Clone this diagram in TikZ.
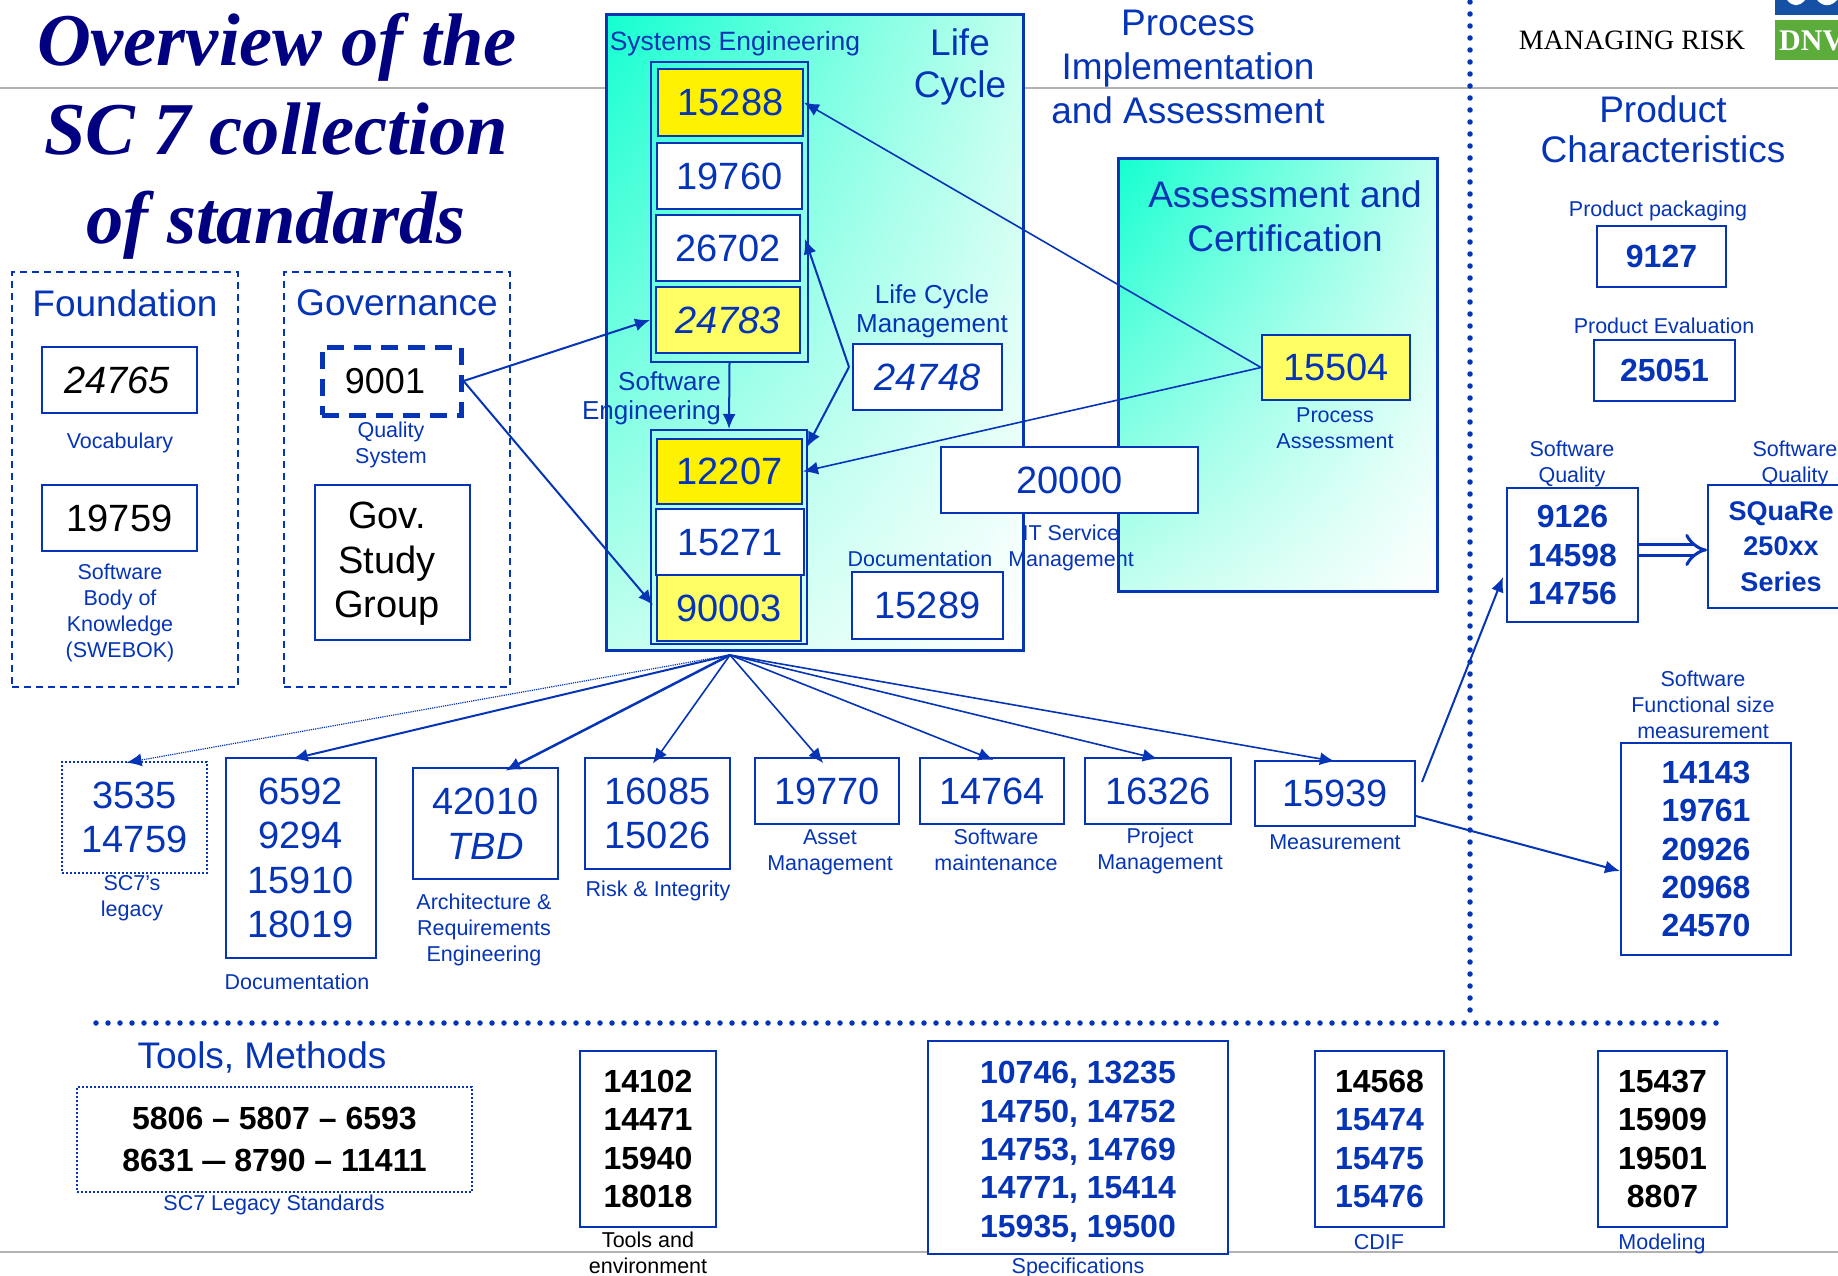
\documentclass[tikz,border=0pt]{standalone}
\usepackage{fontspec}
\setmainfont{Liberation Sans}
\newfontfamily\titlefont{Liberation Serif}
\usetikzlibrary{arrows.meta,calc,shadings}
\definecolor{isoblue}{RGB}{5,52,182}
\definecolor{isonavy}{RGB}{0,0,128}
\definecolor{isoteal}{RGB}{20,255,208}
\definecolor{isomid}{RGB}{195,255,238}
\definecolor{softyellow}{RGB}{255,255,100}
\definecolor{logoblue}{RGB}{22,80,165}
\definecolor{logogreen}{RGB}{92,172,60}
\tikzset{
    txt/.style={text=isoblue,align=center,inner sep=0pt},
    small/.style={txt,font=\fontsize{21.5}{26}\selectfont},
    mid/.style={txt,font=\fontsize{26}{29}\selectfont},
    big/.style={txt,font=\fontsize{37}{44}\selectfont},
    titleline/.style={text=isonavy,inner sep=0pt,font=\titlefont\bfseries\itshape\fontsize{74.5}{76}\selectfont},
    stdbox/.style={draw=isoblue,line width=2pt,fill=white,inner sep=0pt,align=center,text=isoblue,font=\fontsize{38}{44.5}\selectfont},
    boldbox/.style={stdbox,font=\bfseries\fontsize{32}{38.4}\selectfont},
    groupbox/.style={draw=isoblue,line width=2pt,dashed,dash pattern=on 7pt off 5pt,inner sep=0pt},
    stackbox/.style={draw=isoblue,line width=2pt,inner sep=0pt},
    panel/.style={draw=isoblue,line width=3pt,inner sep=0pt,shade,upper left=isoteal,upper right=isomid,lower left=isomid,lower right=white},
    dotline/.style={isoblue,line width=5.5pt,line cap=round,dash pattern=on 0pt off 12pt},
    greyline/.style={gray!60,line width=1.5pt},
    link/.style={isoblue,line width=2pt,-{Latex[length=15pt,width=13pt]}},
    fan/.style={link,line width=1.6pt,shorten >=-8pt},
}
\begin{document}
\begin{tikzpicture}[x=1pt,y=-1pt]
        \useasboundingbox (0,0) rectangle (1838,1276);
        \clip (0,0) rectangle (1838,1276);
        \coordinate (topL) at (0,88);
        \coordinate (topR) at (1838,88);
        \coordinate (botL) at (0,1252);
        \coordinate (botR) at (1838,1252);
        \draw[greyline] (topL) -- (topR);
        \draw[greyline] (botL) -- (botR);
        \coordinate (dotVa) at (1470,2);
        \coordinate (dotVb) at (1470,1016);
        \coordinate (dotHa) at (96,1023);
        \coordinate (dotHb) at (1723,1023);
        \draw[dotline] (dotVa) -- (dotVb);
        \draw[dotline] (dotHa) -- (dotHb);

        \node[titleline] (title1) at (277,47) {Overview of the};
        \node[titleline] (title2) at (276,129) {SC 7 collection};
        \node[titleline] (title3) at (276,225) {of standards};

        \node[groupbox,minimum width=226pt,minimum height=415pt] (foundation) at (125,479.5) {};
        \node[big] (foundationT) at (125,303) {Foundation};
        \node[stdbox,font=\itshape\fontsize{38}{44.5}\selectfont,minimum width=155pt,minimum height=66pt,text=black] (b24765) at (119.5,380) {24765\hspace*{5pt}};
        \node[small] (vocab) at (120,443) {Vocabulary};
        \node[stdbox,minimum width=155pt,minimum height=66pt,text=black] (b19759) at (119.5,518) {19759};
        \node[small] (swebok) at (120,612.5) {Software\\Body of\\Knowledge\\(SWEBOK)};

        \node[groupbox,minimum width=226pt,minimum height=415pt] (governance) at (397,479.5) {};
        \node[big] (governanceT) at (397,303) {Governance};
        \node[stdbox,fill=none,line width=5pt,dashed,dash pattern=on 17pt off 10pt,minimum width=139pt,minimum height=68pt,text=black,font=\fontsize{36}{44}\selectfont] (b9001) at (391.5,381) {\raisebox{-2pt}{9001}\hspace*{13pt}};
        \node[small] (quality) at (391,445) {Quality\\System};
        \node[stdbox,minimum width=155pt,minimum height=155pt] (gov) at (392.5,562.5) {};
        \node[txt,text=black,font=\fontsize{38}{44.5}\selectfont] (govT) at (387,564) {Gov.\\Study\\Group};

        \node[panel,minimum width=417pt,minimum height=635pt] (lifecycle) at (814.5,332.5) {};
        \node[txt,font=\fontsize{26.5}{29}\selectfont] (syseng) at (735,44) {Systems Engineering};
        \node[big,font=\fontsize{37}{42}\selectfont] (lifeT) at (960,66.5) {Life\\Cycle};
        \node[stackbox,minimum width=157pt,minimum height=300pt] (seStack) at (729.5,212) {};
        \node[stdbox,fill=yellow,minimum width=145pt,minimum height=67pt] (b15288) at (730.5,102.5) {15288};
        \node[stdbox,minimum width=145pt,minimum height=66pt] (b19760) at (729.5,176) {19760};
        \node[stdbox,minimum width=144pt,minimum height=66pt] (b26702) at (728,248) {26702};
        \node[stdbox,fill=softyellow,font=\itshape\fontsize{38}{44.5}\selectfont,minimum width=144pt,minimum height=66pt] (b24783) at (728,320) {24783};
        \node[mid,align=right,anchor=east] (sweng) at (721,398) {Software\\Engineering};
        \node[stackbox,minimum width=156pt,minimum height=214pt] (swStack) at (729,537) {};
        \node[stdbox,fill=yellow,minimum width=145pt,minimum height=65pt] (b12207) at (729.5,471.5) {12207};
        \node[stdbox,minimum width=148pt,minimum height=66pt] (b15271) at (730,542) {15271};
        \node[stdbox,fill=softyellow,minimum width=144pt,minimum height=66pt] (b90003) at (729,608) {90003};
        \node[mid] (lcm) at (932,311) {Life Cycle\\Management};
        \node[stdbox,font=\itshape\fontsize{38}{44.5}\selectfont,minimum width=149pt,minimum height=66pt] (b24748) at (927.5,377) {24748};
        \node[small] (docA) at (920,559) {Documentation};
        \node[stdbox,minimum width=151pt,minimum height=67pt] (b15289) at (927.5,605.5) {15289};

        \node[big] (process) at (1188,67) {Process\\Implementation\\and Assessment};
        \node[panel,minimum width=319pt,minimum height=432pt] (assess) at (1277.5,375) {};
        \node[big] (assessT) at (1285,216) {Assessment and\\Certification};
        \node[stdbox,fill=softyellow,minimum width=148pt,minimum height=65pt] (b15504) at (1336,367.5) {15504};
        \node[small] (procA) at (1335,428) {Process\\Assessment};
        \node[stdbox,minimum width=257pt,minimum height=66pt] (b20000) at (1069.5,480) {20000};
        \node[small] (itsm) at (1071,548) {IT Service\\Management};

        \node[text=black,inner sep=0pt,font=\titlefont\fontsize{28}{30}\selectfont] (risk) at (1632,40) {MANAGING RISK};
        \fill[logoblue] (1775,0) rectangle (1838,15);
        \fill[white] (1787,0) .. controls (1793,7) and (1799,7) .. (1805,0) -- cycle;
        \fill[white] (1817,0) .. controls (1823,7) and (1831,7) .. (1837,0) -- cycle;
        \fill[logogreen] (1775,20) rectangle (1838,60);
        \node[text=white,anchor=west,inner sep=0pt,font=\titlefont\bfseries\fontsize{30}{30}\selectfont] (dnv) at (1779,41) {DNV};

        \node[big,font=\fontsize{37}{40}\selectfont] (product) at (1663,129) {Product\\Characteristics};
        \node[small] (packaging) at (1658,210.5) {Product packaging};
        \node[boldbox,minimum width=129pt,minimum height=61pt] (b9127) at (1661.5,256.5) {9127};
        \node[small] (evaluation) at (1664,326) {Product Evaluation};
        \node[boldbox,minimum width=141pt,minimum height=61pt] (b25051) at (1664.5,370) {25051};
        \node[small] (squalA) at (1572,463.5) {Software\\Quality};
        \node[boldbox,minimum width=131pt,minimum height=134pt] (b9126) at (1572.5,555) {9126\\14598\\14756};
        \node[small] (squalB) at (1795,463.5) {Software\\Quality};
        \node[boldbox,font=\bfseries\fontsize{27}{35.5}\selectfont,minimum width=146pt,minimum height=123pt] (square) at (1781,546.5) {SQuaRe\\250xx\\Series};
        \node[small] (funcsize) at (1703,705) {Software\\Functional size\\measurement};
        \node[boldbox,minimum width=170pt,minimum height=212pt] (b14143) at (1706,849) {14143\\19761\\20926\\20968\\24570};

        \node[stdbox,dotted,line width=1.6pt,minimum width=145pt,minimum height=111pt] (b3535) at (134.5,817.5) {3535\\14759};
        \node[small] (legacy) at (132,898) {SC7's\\legacy};
        \node[stdbox,minimum width=150pt,minimum height=200pt] (b6592) at (300.5,858) {6592\\9294\\15910\\18019};
        \node[small] (docB) at (297,982) {Documentation};
        \node[stdbox,minimum width=145pt,minimum height=111pt] (b42010) at (485.5,823.5) {42010\\\textit{TBD}};
        \node[small] (archi) at (484,929.5) {Architecture \&\\Requirements\\Engineering};
        \node[stdbox,minimum width=145pt,minimum height=111pt] (b16085) at (657.5,813.5) {16085\\15026};
        \node[small] (riskint) at (658,891) {Risk \& Integrity};
        \node[stdbox,minimum width=144pt,minimum height=66pt] (b19770) at (827,791) {19770};
        \node[small] (asset) at (830,852.5) {Asset\\Management};
        \node[stdbox,minimum width=144pt,minimum height=66pt] (b14764) at (992,791) {14764};
        \node[small] (maint) at (996,850) {Software\\maintenance};
        \node[stdbox,minimum width=146pt,minimum height=66pt] (b16326) at (1158,791) {16326};
        \node[small] (project) at (1160,851) {Project\\Management};
        \node[stdbox,minimum width=160pt,minimum height=65pt] (b15939) at (1335,793.5) {15939};
        \node[small] (measure) at (1335,842) {Measurement};

        \node[big] (tools) at (262,1057) {Tools, Methods};
        \node[boldbox,dotted,line width=1.4pt,text=black,font=\bfseries\fontsize{32}{42}\selectfont,minimum width=395pt,minimum height=105pt] (b5806) at (274.5,1139.5) {5806 -- 5807 -- 6593\\8631 \scalebox{0.72}[1]{---} 8790 -- 11411};
        \node[small] (sc7std) at (274,1205) {SC7 Legacy Standards};
        \node[boldbox,text=black,minimum width=136pt,minimum height=176pt] (b14102) at (648,1139) {14102\\14471\\15940\\18018};
        \node[small,text=black] (toolenv) at (648,1253) {Tools and\\environment};
        \node[boldbox,minimum width=300pt,minimum height=213pt] (b10746) at (1078,1147.5) {\rule{0pt}{31pt}10746, 13235\\14750, 14752\\14753, 14769\\14771, 15414\\15935, 19500};
        \node[small] (spec) at (1078,1268) {Specifications};
        \node[boldbox,minimum width=129pt,minimum height=176pt] (b14568) at (1379.5,1139) {\textcolor{black}{14568}\\15474\\15475\\15476};
        \node[small] (cdif) at (1379,1242) {CDIF};
        \node[boldbox,text=black,minimum width=129pt,minimum height=176pt] (b15437) at (1662.5,1139) {15437\\15909\\19501\\8807};
        \node[small] (model) at (1662,1244) {Modeling};

        \draw[link] (b9001.east) -- (seStack.west |- b24783);
        \coordinate (tip90003) at (653,605);
        \draw[link] (b9001.east) -- (tip90003);
        \draw[link] (seStack.south) -- (swStack.north);
        \draw[link,line width=1.6pt] (b15504.west) -- (b15288.east);
        \draw[link,line width=1.6pt] (b15504.west) -- (b12207.east);
        \coordinate (elbow) at (849,367);
        \coordinate (tip26702) at (805,239);
        \coordinate (tip12207) at (807,447);
        \draw[link] (elbow) -- (tip26702);
        \draw[link] (elbow) -- (tip12207);

        \coordinate (hub) at (730,655);
        \draw[fan,line width=1.2pt,densely dotted,-{Latex[length=15pt,width=13pt]}] (hub) -- (b3535.north);
        \draw[fan,line width=2pt] (hub) -- (b6592.north);
        \draw[fan,line width=2.5pt] (hub) -- ([xshift=27pt]b42010.north);
        \draw[fan] (hub) -- (b16085.north);
        \draw[fan] (hub) -- ([xshift=-9pt]b19770.north);
        \draw[fan] (hub) -- ([xshift=-6pt]b14764.north);
        \draw[fan] (hub) -- ([xshift=-8pt]b16326.north);
        \draw[fan] (hub) -- ([xshift=-8pt]b15939.north);

        \coordinate (mstart) at (1422,782);
        \coordinate (mtip) at (1503,577);
        \draw[link] (mstart) -- (mtip);
        \coordinate (mstartB) at (1416,816);
        \draw[link] (mstartB) -- ([yshift=-22pt]b14143.west);
        \coordinate (dblLevel) at (1670,550);
        \draw[isoblue,line width=3pt,double=white,double distance=8pt,-{Implies[length=15pt]}] (b9126.east |- dblLevel) -- (square.west |- dblLevel);
\end{tikzpicture}
\end{document}
